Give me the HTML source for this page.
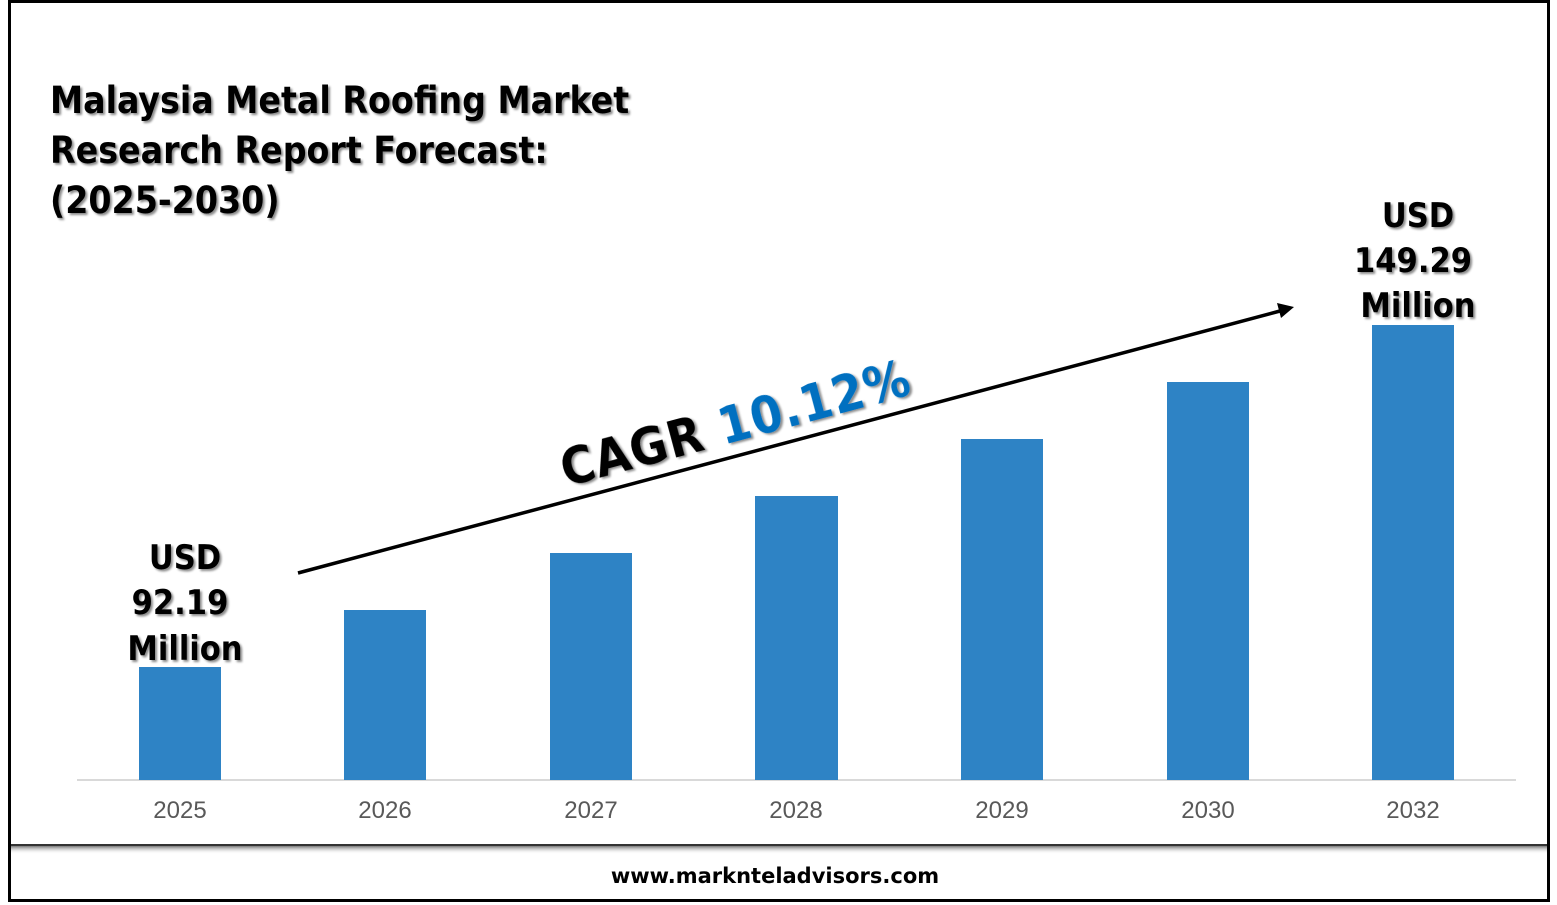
<!DOCTYPE html>
<html><head><meta charset="utf-8"><style>
html,body{margin:0;padding:0;background:#fff}
svg{display:block}
</style></head><body>
<svg width="1557" height="905" viewBox="0 0 1557 905" xmlns="http://www.w3.org/2000/svg">
<defs>
<filter id="ts" x="-5%" y="-20%" width="110%" height="140%"><feDropShadow dx="2" dy="2" stdDeviation="1" flood-color="#000" flood-opacity="0.45"/></filter>
<linearGradient id="sh" x1="0" y1="0" x2="0" y2="1"><stop offset="0" stop-color="#555"/><stop offset="1" stop-color="#fff" stop-opacity="0"/></linearGradient>
</defs>
<rect x="0" y="0" width="1557" height="905" fill="#fff"/>
<rect x="9.5" y="1.5" width="1539" height="899" fill="none" stroke="#000" stroke-width="3"/>
<rect x="11" y="845" width="1536" height="9" fill="url(#sh)"/>
<line x1="11" y1="845" x2="1547" y2="845" stroke="#333" stroke-width="2"/>
<g font-family="'DejaVu Sans Condensed','DejaVu Sans',sans-serif" font-weight="bold" font-size="37" fill="#000" filter="url(#ts)">
<text x="50" y="113">Malaysia Metal Roofing Market</text>
<text x="50" y="163">Research Report Forecast:</text>
<text x="50" y="213">(2025-2030)</text>
</g>
<line x1="77" y1="780" x2="1516" y2="780" stroke="#d9d9d9" stroke-width="2"/>
<g fill="#2e83c5">
<rect x="139" y="667" width="82" height="113"/>
<rect x="344" y="610" width="82" height="170"/>
<rect x="550" y="553" width="82" height="227"/>
<rect x="755" y="496" width="83" height="284"/>
<rect x="961" y="439" width="82" height="341"/>
<rect x="1167" y="382" width="82" height="398"/>
<rect x="1372" y="325" width="82" height="455"/>
</g>
<g font-family="'Liberation Sans',sans-serif" font-size="24" fill="#595959" text-anchor="middle">
<text x="180" y="818">2025</text><text x="385" y="818">2026</text><text x="591" y="818">2027</text>
<text x="796" y="818">2028</text><text x="1002" y="818">2029</text><text x="1208" y="818">2030</text><text x="1413" y="818">2032</text>
</g>
<g font-family="'DejaVu Sans Condensed','DejaVu Sans',sans-serif" font-weight="bold" font-size="34" fill="#000" text-anchor="middle" filter="url(#ts)">
<text x="185" y="569">USD</text><text x="180" y="614">92.19</text><text x="185" y="660">Million</text>
<text x="1418" y="227">USD</text><text x="1413" y="272">149.29</text><text x="1418" y="317">Million</text>
</g>
<line x1="298" y1="573" x2="1280" y2="311" stroke="#000" stroke-width="3.5"/>
<polygon points="1294,307 1277,303 1281,318" fill="#000"/>
<g transform="translate(566,487) rotate(-15)" font-family="'DejaVu Sans Condensed','DejaVu Sans',sans-serif" font-weight="bold" font-size="51" filter="url(#ts)">
<text x="0" y="0" letter-spacing="1"><tspan fill="#000">CAGR </tspan><tspan fill="#0070c0">10.12%</tspan></text>
</g>
<text x="775" y="883" text-anchor="middle" font-family="'DejaVu Sans',sans-serif" font-weight="bold" font-size="21" fill="#000">www.marknteladvisors.com</text>
</svg>
</body></html>
